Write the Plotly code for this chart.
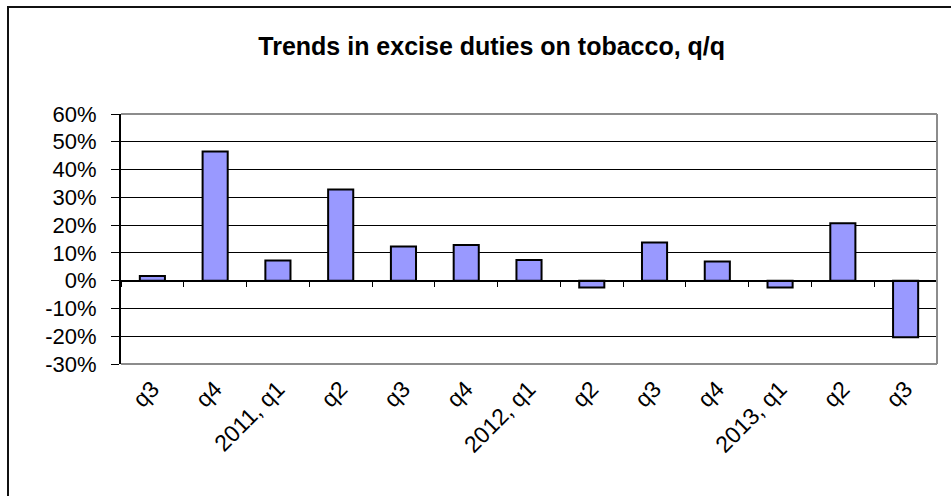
import plotly.graph_objects as go

categories = ["q3", "q4", "2011, q1", "q2", "q3", "q4", "2012, q1",
              "q2", "q3", "q4", "2013, q1", "q2", "q3"]
values = [1.7, 46.5, 7.3, 32.8, 12.3, 12.8, 7.4, -2.5, 13.7, 6.9, -2.5, 20.7, -20.4]
y_ticks = [-30, -20, -10, 0, 10, 20, 30, 40, 50, 60]

n = len(categories)
positions = list(range(n))
boundaries = [i - 0.5 for i in range(n + 1)]

W, H = 951, 496
ML, MR, MT, MB = 121, 14, 114, 132
pw, ph = W - ML - MR, H - MT - MB
FONT = "Liberation Sans, Arial, sans-serif"

fig = go.Figure()
fig.add_trace(go.Bar(
    x=positions, y=values,
    marker=dict(color="#9999FF", line=dict(color="black", width=2)),
    showlegend=False, hoverinfo="skip",
))
# carrier for the label axis (draws nothing)
fig.add_trace(go.Scatter(x=positions, y=values, xaxis="x2", mode="none",
                         showlegend=False, hoverinfo="skip"))

def px_x(p):
    return (p - ML) / pw

def px_y(p):
    return (H - MB - p) / ph

shapes = [
    dict(type="line", xref="paper", yref="paper", x0=0, x1=1, y0=1, y1=1,
         line=dict(color="#8c8c8c", width=2), layer="above"),
    dict(type="line", xref="paper", yref="paper", x0=1, x1=1, y0=0, y1=1,
         line=dict(color="#8c8c8c", width=2), layer="above"),
    dict(type="line", xref="paper", yref="paper", x0=0, x1=1, y0=0, y1=0,
         line=dict(color="#8c8c8c", width=2), layer="above"),
    dict(type="line", xref="paper", yref="paper", x0=px_x(7), x1=px_x(960),
         y0=px_y(7), y1=px_y(7), line=dict(color="#111", width=2)),
    dict(type="line", xref="paper", yref="paper", x0=px_x(8), x1=px_x(8),
         y0=px_y(7), y1=px_y(505), line=dict(color="#111", width=2)),
]

fig.update_layout(
    width=W, height=H,
    margin=dict(l=ML, r=MR, t=MT, b=MB, pad=0),
    paper_bgcolor="white", plot_bgcolor="white",
    font=dict(family=FONT, size=16, color="black"),
    title=dict(text="<b>Trends in excise duties on tobacco, q/q</b>",
               x=0.517, xref="container", xanchor="center",
               y=1 - 46 / H, yref="container", yanchor="middle",
               font=dict(family=FONT, size=25, color="black")),
    bargap=0.6,
    shapes=shapes,
    xaxis=dict(type="linear", range=[-0.5, n - 0.5], anchor="free",
               position=(0 - y_ticks[0]) / (y_ticks[-1] - y_ticks[0]),
               showline=True, linecolor="black", linewidth=1,
               ticks="outside", tickvals=boundaries, ticklen=5,
               tickcolor="black", tickwidth=1,
               showticklabels=False, showgrid=False, zeroline=False),
    xaxis2=dict(type="linear", range=[-0.5, n - 0.5], overlaying="x",
                anchor="y", side="bottom",
                tickvals=positions, ticktext=categories, tickangle=-45,
                ticks="", ticklabelstandoff=6,
                showline=False, showgrid=False, zeroline=False,
                tickfont=dict(family=FONT, size=23, color="black")),
    yaxis=dict(range=[y_ticks[0], y_ticks[-1]], tickvals=y_ticks,
               ticktext=[f"{v}%" for v in y_ticks],
               showline=True, linecolor="black", linewidth=2,
               ticks="outside", ticklen=8, tickcolor="black", tickwidth=1,
               ticklabelstandoff=10,
               showgrid=True, gridcolor="black", gridwidth=1,
               zeroline=False,
               tickfont=dict(family=FONT, size=22, color="black")),
)

fig.write_html("out.html")
